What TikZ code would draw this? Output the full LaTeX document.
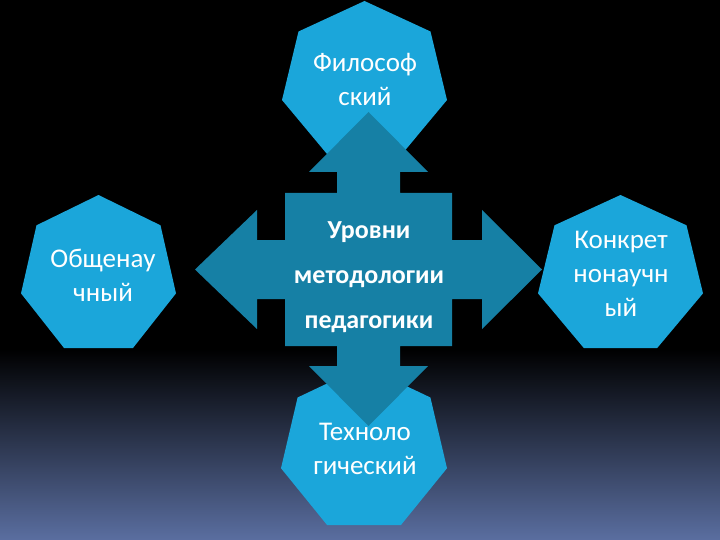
\documentclass[tikz,border=0pt]{standalone}
\usepackage{fontspec}
\setmainfont{Carlito}
\definecolor{hept}{RGB}{27,166,218}
\definecolor{arrowc}{RGB}{22,128,165}
\definecolor{bgbot}{RGB}{90,110,160}
\newcommand{\heptpath}[4]{(#1+0.5*#3,#2) -- (#1+0.9*#3,#2+0.198*#4) -- (#1+#3,#2+0.643*#4) -- (#1+0.7225*#3,#2+#4) -- (#1+0.2775*#3,#2+#4) -- (#1,#2+0.643*#4) -- (#1+0.1*#3,#2+0.198*#4) -- cycle}
\tikzset{
  heptfill/.style={fill=hept, draw=none},
  lbl/.style={text=white, align=center, inner sep=0pt, font=\fontsize{27}{34}\selectfont},
  clbl/.style={text=white, align=center, inner sep=0pt, font=\fontsize{26}{45}\selectfont\bfseries},
}
\begin{document}
\begin{tikzpicture}[x=1pt,y=-1pt]
\useasboundingbox (0,0) rectangle (720,540);
% background
\fill[black] (0,0) rectangle (720,350);
\shade[top color=black, bottom color=bgbot] (0,349) rectangle (720,540);
% heptagons
\fill[heptfill] \heptpath{282}{1}{165}{154};
\fill[heptfill] \heptpath{21}{195}{155}{153};
\fill[heptfill] \heptpath{538}{195}{165}{153};
\fill[heptfill] \heptpath{281}{366}{166}{159};
% central quad arrow
\fill[arrowc] (368.5,112) -- (428,172) -- (400,172) -- (400,193) -- (452,193) -- (452,240) -- (482,240) -- (482,210) -- (542,269.5) -- (482,329) -- (482,299) -- (452,299) -- (452,346) -- (400,346) -- (400,366) -- (428,366) -- (368.5,426) -- (309,366) -- (337,366) -- (337,346) -- (285,346) -- (285,299) -- (257,299) -- (257,329) -- (195,269.5) -- (257,210) -- (257,240) -- (285,240) -- (285,193) -- (337,193) -- (337,172) -- (309,172) -- cycle;
% texts
\node[lbl] (phil) at (365,79) {Философ\\ский};
\node[lbl] (gen) at (103,275) {Общенау\\чный};
\node[lbl] (conc) at (621,274) {Конкрет\\нонаучн\\ый};
\node[lbl] (tech) at (365,449) {Техноло\\гический};
\node[clbl] (mid) at (369,277) {Уровни\\методологии\\педагогики};
\end{tikzpicture}
\end{document}
